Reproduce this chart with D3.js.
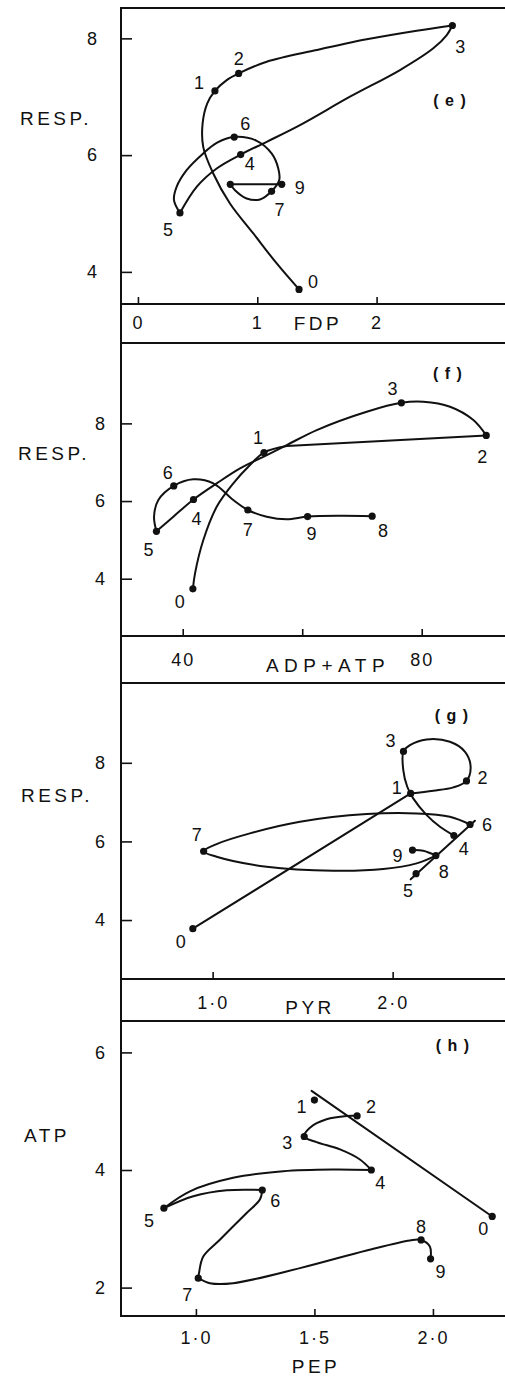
<!DOCTYPE html>
<html>
<head>
<meta charset="utf-8">
<script src="https://cdn.jsdelivr.net/npm/d3@7"></script>
<style>
  body { margin: 0; background: #fff; }
  svg text { font-family: "Liberation Sans", Arial, sans-serif; fill: #111; }
</style>
</head>
<body>
<svg id="chart" width="505" height="1379"></svg>
<script>
// time points shown next to each dot
const steps = ["0", "1", "2", "3", "4", "5", "6", "7", "8", "9"];

// (e) FDP vs respiration
const fdp   = [1.35, 0.645, 0.844, 2.635, 0.861, 0.352, 0.807, 1.12, 0.774, 1.205];
const respE = [3.70, 7.10, 7.40, 8.22, 6.01, 5.01, 6.31, 5.38, 5.50, 5.50];
// (f) ADP+ATP vs respiration
const adpAtp = [41.7, 53.6, 90.8, 76.6, 41.8, 35.6, 38.5, 50.9, 71.7, 60.9];
const respF  = [3.74, 7.25, 7.69, 8.53, 6.04, 5.22, 6.39, 5.77, 5.61, 5.60];
// (g) PYR vs respiration
const pyr   = [0.89, 2.10, 2.41, 2.06, 2.34, 2.13, 2.43, 0.95, 2.24, 2.11];
const respG = [3.78, 7.22, 7.54, 8.29, 6.15, 5.18, 6.43, 5.75, 5.64, 5.78];
// (h) PEP vs ATP
const pep  = [2.25, 1.50, 1.68, 1.457, 1.74, 0.865, 1.28, 1.01, 1.95, 1.99];
const atpH = [3.21, 5.19, 4.92, 4.57, 4.00, 3.35, 3.66, 2.16, 2.81, 2.49];

// the hand-drawn connecting lines (data units), one array per stroke
const traceE = [
  [[1.35, 3.70], [1.163, 4.144], [0.967, 4.658], [0.771, 5.172], [0.631, 5.686], [0.547, 6.142],
   [0.542, 6.543], [0.581, 6.886], [0.645, 7.10], [0.744, 7.285], [0.844, 7.40], [1.079, 7.599],
   [1.498, 7.80], [1.917, 7.983], [2.336, 8.13], [2.635, 8.22]],
  [[2.635, 8.22], [2.588, 8.057], [2.475, 7.829], [2.196, 7.457], [1.777, 7.0], [1.358, 6.514],
   [1.079, 6.228], [0.861, 6.01], [0.660, 5.772], [0.492, 5.457], [0.352, 5.01]],
  [[0.352, 5.01], [0.302, 5.229], [0.324, 5.457], [0.408, 5.743], [0.547, 6.029], [0.660, 6.211],
   [0.807, 6.31], [0.995, 6.245], [1.12, 6.029], [1.176, 5.772], [1.184, 5.572], [1.12, 5.38],
   [1.023, 5.241], [0.911, 5.258], [0.813, 5.40], [0.774, 5.50]],
  [[0.774, 5.50], [1.205, 5.50]]
];
const traceF = [
  [[41.7, 3.74], [42.06, 4.139], [43.45, 4.996], [45.69, 5.853], [48.47, 6.456], [51.26, 6.927],
   [53.6, 7.25], [57.41, 7.416]],
  [[57.41, 7.416], [90.8, 7.69]],
  [[90.8, 7.69], [88.64, 8.085], [84.74, 8.427], [80.27, 8.556], [76.6, 8.53], [70.8, 8.30],
   [62.43, 7.828], [57.41, 7.441], [53.49, 7.14], [49.59, 6.842], [45.69, 6.456], [41.8, 6.04],
   [38.43, 5.596], [35.6, 5.22]],
  [[35.6, 5.22], [35.2, 5.596], [35.92, 6.026], [38.5, 6.39], [41.77, 6.559], [45.12, 6.456],
   [48.47, 6.026], [50.9, 5.77], [54.06, 5.596], [57.41, 5.529], [60.9, 5.60], [66.33, 5.622],
   [71.7, 5.61]]
];
const traceG = [
  [[0.89, 3.78], [2.10, 7.22]],
  [[2.10, 7.22], [2.226, 7.288], [2.337, 7.374], [2.41, 7.54], [2.433, 7.898], [2.402, 8.28],
   [2.318, 8.534], [2.189, 8.595], [2.096, 8.45], [2.06, 8.29], [2.059, 7.814], [2.081, 7.39],
   [2.114, 7.095], [2.189, 6.67], [2.263, 6.373], [2.34, 6.15]],
  [[2.10, 5.035], [2.457, 6.525]],
  [[2.43, 6.43], [2.318, 6.627], [2.133, 6.713], [1.856, 6.696], [1.485, 6.50], [1.207, 6.205],
   [1.022, 5.933], [0.95, 5.75], [1.022, 5.61], [1.30, 5.356], [1.67, 5.254], [1.948, 5.297],
   [2.133, 5.442], [2.24, 5.64]],
  [[2.24, 5.64], [2.17, 5.763], [2.11, 5.78]]
];
const traceH = [
  [[2.25, 3.21], [1.488, 5.345]],
  [[1.68, 4.92], [1.636, 4.918], [1.551, 4.862], [1.481, 4.72], [1.457, 4.57], [1.509, 4.474],
   [1.608, 4.35], [1.692, 4.179], [1.74, 4.00]],
  [[1.74, 4.00], [1.579, 4.009], [1.368, 3.98], [1.157, 3.867], [0.975, 3.638], [0.865, 3.35]],
  [[0.865, 3.35], [0.989, 3.553], [1.13, 3.655], [1.28, 3.66]],
  [[1.28, 3.66], [1.27, 3.497], [1.214, 3.27], [1.101, 2.814], [1.031, 2.529], [1.013, 2.246], [1.01, 2.16]],
  [[1.01, 2.16], [1.059, 2.075], [1.157, 2.075], [1.439, 2.331], [1.72, 2.631], [1.903, 2.802],
   [1.95, 2.81], [1.987, 2.70], [1.99, 2.49]]
];

// ticks
const xTicksE = [0, 1, 2],     yTicksE = [4, 6, 8];
const xTicksF = [40, 60, 80],  yTicksF = [4, 6, 8];
const xTicksG = [1, 2],        yTicksG = [4, 6, 8];
const xTicksH = [1, 1.5, 2],   yTicksH = [2, 4, 6];

const dotFmt = d => d3.format(".1f")(d).replace(".", "\u00B7");

// layout: panel frames and label offsets
const left = 121, right = 505;
const panels = [
  { id: "e", xs: fdp, ys: respE, trace: traceE, xTicks: xTicksE, yTicks: yTicksE, xFmt: d3.format("d"),
    top: 8, axisY: 304, bottom: 343, xDom: [-0.142, 3.076], yDom: [3.45, 8.52],
    yPad: 24, xPad: 12.5, yTitle: "RESP.", yTitlePos: [56, 118], xTitle: "FDP", xTitlePos: [318, 323],
    xTitleSpace: 3.5, tag: "( e )", tagPos: [450, 100],
    off: [[14, -8], [-16, -8], [0, -15], [8, 21], [9, 9], [-12, 17], [11, -13], [8, 18], null, [18, 3]] },
  { id: "f", xs: adpAtp, ys: respF, trace: traceF, xTicks: xTicksF, yTicks: yTicksF, xFmt: d => d === 60 ? "" : d,
    top: 343, axisY: 636, bottom: 683, xDom: [29.67, 93.94], yDom: [2.525, 10.07],
    yPad: 16, xPad: 17.5, yTitle: "RESP.", yTitlePos: [54, 453], xTitle: "ADP+ATP", xTitlePos: [328, 665],
    xTitleSpace: 5.5, tag: "( f )", tagPos: [448, 373],
    off: [[-13, 13], [-6, -15], [-4, 21], [-9, -14], [3, 19], [-8, 18], [-6, -13], [0, 20], [11, 15], [4, 17]] },
  { id: "g", xs: pyr, ys: respG, trace: traceG, xTicks: xTicksG, yTicks: yTicksG, xFmt: dotFmt,
    top: 683, axisY: 979, bottom: 1021, xDom: [0.491, 2.624], yDom: [2.5, 10.03],
    yPad: 16, xPad: 17.5, yTitle: "RESP.", yTitlePos: [57, 795], xTitle: "PYR", xTitlePos: [310, 1007],
    xTitleSpace: 3.5, tag: "( g )", tagPos: [452, 715],
    off: [[-12, 13], [-14, -6], [16, -3], [-13, -11], [10, 13], [-8, 17], [17, 0], [-7, -17], [8, 16], [-15, 6]] },
  { id: "h", xs: pep, ys: atpH, trace: traceH, xTicks: xTicksH, yTicks: yTicksH, xFmt: dotFmt,
    top: 1021, axisY: 1316, bottom: null, xDom: [0.684, 2.304], yDom: [1.517, 6.534],
    yPad: 16, xPad: 15.5, yTitle: "ATP", yTitlePos: [47, 1135], xTitle: "PEP", xTitlePos: [316, 1366],
    xTitleSpace: 3.5, tag: "( h )", tagPos: [453, 1045],
    off: [[-9, 12], [-13, 7], [14, -9], [-17, 6], [9, 13], [-15, 12], [13, 11], [-11, 17], [0, -13], [10, 13]] }
];

const svg = d3.select("#chart");

// continuous left border
svg.append("line")
  .attr("x1", left).attr("x2", left)
  .attr("y1", panels[0].top - 1).attr("y2", panels[3].axisY + 1)
  .attr("stroke", "#111").attr("stroke-width", 2);

panels.forEach(p => {
  const x = d3.scaleLinear().domain(p.xDom).range([left, right]);
  const y = d3.scaleLinear().domain(p.yDom).range([p.axisY, p.top]);
  const g = svg.append("g").attr("class", "panel-" + p.id);

  // frame lines
  [p.top, p.axisY, p.bottom].filter(v => v != null).forEach(v => {
    g.append("line").attr("x1", left - 1).attr("x2", right)
      .attr("y1", v).attr("y2", v)
      .attr("stroke", "#111").attr("stroke-width", 2);
  });

  // axes, ticks pointing inward
  const yAxis = d3.axisLeft(y).tickValues(p.yTicks).tickFormat(d3.format("d"))
    .tickSizeInner(-11).tickSizeOuter(0).tickPadding(p.yPad);
  const xAxis = d3.axisBottom(x).tickValues(p.xTicks).tickFormat(p.xFmt)
    .tickSizeInner(-7).tickSizeOuter(0).tickPadding(p.xPad);

  g.append("g").attr("transform", `translate(${left},0)`).call(yAxis)
    .call(a => a.select(".domain").remove())
    .call(a => a.selectAll("line").attr("stroke", "#111").attr("stroke-width", 1.6))
    .call(a => a.selectAll("text").attr("font-size", 18).attr("fill", "#111"));

  g.append("g").attr("transform", `translate(0,${p.axisY})`).call(xAxis)
    .call(a => a.select(".domain").remove())
    .call(a => a.selectAll("line").attr("stroke", "#111").attr("stroke-width", 1.6))
    .call(a => a.selectAll("text").attr("font-size", 18).attr("fill", "#111").attr("letter-spacing", 2));

  // titles
  g.append("text").attr("x", p.yTitlePos[0]).attr("y", p.yTitlePos[1]).attr("dy", "0.35em")
    .attr("text-anchor", "middle").attr("font-size", 19).attr("letter-spacing", 3.5).text(p.yTitle);
  g.append("text").attr("x", p.xTitlePos[0]).attr("y", p.xTitlePos[1]).attr("dy", "0.35em")
    .attr("text-anchor", "middle").attr("font-size", 19).attr("letter-spacing", p.xTitleSpace).text(p.xTitle);
  g.append("text").attr("x", p.tagPos[0]).attr("y", p.tagPos[1]).attr("dy", "0.35em")
    .attr("text-anchor", "middle").attr("font-size", 16).attr("font-weight", "bold")
    .attr("letter-spacing", 1).text(p.tag);

  // connecting strokes
  const line = d3.line().x(d => x(d[0])).y(d => y(d[1])).curve(d3.curveCatmullRom.alpha(0.5));
  g.selectAll("path.trace").data(p.trace).join("path")
    .attr("class", "trace")
    .attr("d", line)
    .attr("fill", "none").attr("stroke", "#111").attr("stroke-width", 2)
    .attr("stroke-linejoin", "round").attr("stroke-linecap", "round");

  // time points
  const pts = steps.map((s, i) => ({ step: s, x: p.xs[i], y: p.ys[i], off: p.off[i] }));
  g.selectAll("circle").data(pts).join("circle")
    .attr("cx", d => x(d.x)).attr("cy", d => y(d.y)).attr("r", 3.6).attr("fill", "#111");

  g.selectAll("text.step").data(pts.filter(d => d.off)).join("text")
    .attr("class", "step")
    .attr("x", d => x(d.x) + d.off[0]).attr("y", d => y(d.y) + d.off[1]).attr("dy", "0.35em")
    .attr("text-anchor", "middle").attr("font-size", 18).text(d => d.step);
});
</script>
</body>
</html>
